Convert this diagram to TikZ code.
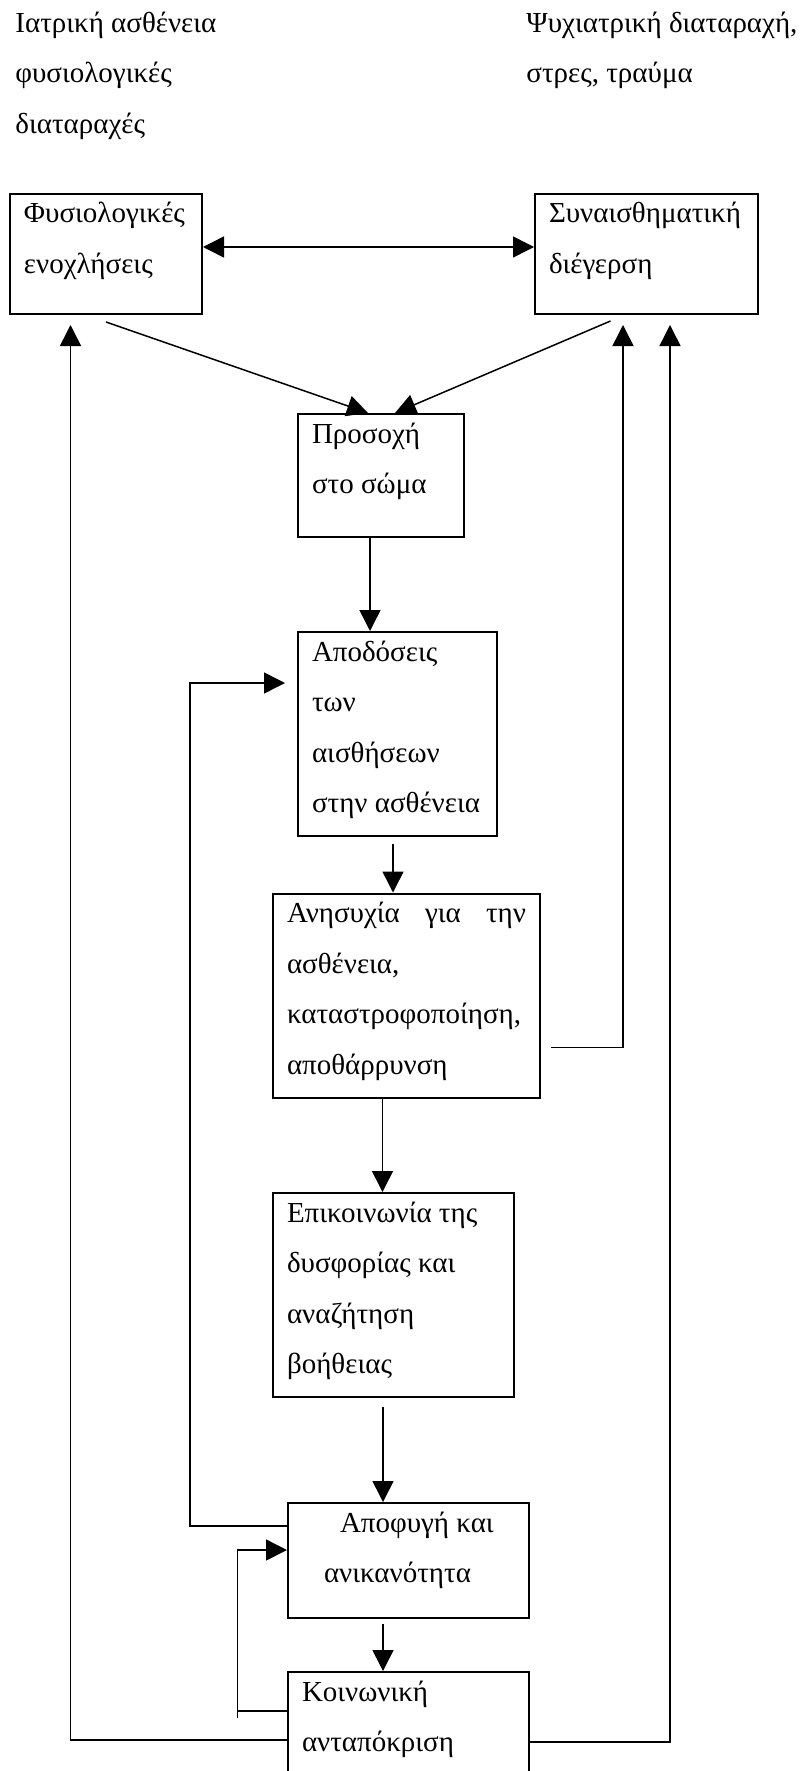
\documentclass[tikz,border=0pt]{standalone}
\usepackage{fontspec}
\setmainfont{Liberation Serif}
\usetikzlibrary{arrows.meta}

% text of a box: width of the box, height of the box, lines
\newcommand{\boxtxt}[3]{\parbox[t][#2][t]{\dimexpr#1-14pt\relax}{\rule{0pt}{14.5pt}#3}}

\begin{document}
\begin{tikzpicture}[x=0.5pt, y=-0.5pt, font=\fontsize{14.5pt}{25.3pt}\selectfont,
    >={Triangle[length=10.5pt, width=10.5pt]},
    box/.style={draw, line width=1pt, anchor=north west, inner xsep=7pt, inner ysep=0pt},
    note/.style={anchor=north west, inner sep=0pt},
    arr/.style={->, line width=0.75pt}]

    \useasboundingbox (0,0) rectangle (801,1771);

    % ================= Causes (top) =================
    \node[note] (txt_left)  at (15,3)  {\boxtxt{214pt}{80pt}{Ιατρική ασθένεια\\φυσιολογικές\\διαταραχές}};
    \node[note] (txt_right) at (526,3) {\boxtxt{214pt}{80pt}{Ψυχιατρική διαταραχή,\\στρες, τραύμα}};

    % ================= Boxes =================
    \node[box] (fys_enox)  at (9,193)   {\boxtxt{96pt}{60pt}{Φυσιολογικές\\ενοχλήσεις}};
    \node[box] (syn_dieg)  at (534,193) {\boxtxt{111.5pt}{60pt}{Συναισθηματική\\διέγερση}};
    \node[box] (prosoxi)   at (297,413) {\boxtxt{83pt}{61.5pt}{Προσοχή\\στο σώμα}};
    \node[box] (apodoseis) at (297,631) {\boxtxt{99.5pt}{102pt}{Αποδόσεις\\των\\αισθήσεων\\στην ασθένεια}};
    \node[box] (anisyxia)  at (272,892.5) {\boxtxt{133.5pt}{102pt}{Ανησυχία\hfill για\hfill την\\ασθένεια,\\καταστροφοποίηση,\\αποθάρρυνση}};
    \node[box] (epikoin)   at (272,1192) {\boxtxt{120.5pt}{102pt}{Επικοινωνία της\\δυσφορίας και\\αναζήτηση\\βοήθειας}};
    \node[box] (apofygi)   at (287,1502) {\boxtxt{120.5pt}{57.5pt}{\hspace*{19pt}Αποφυγή και\\\hspace*{11pt}ανικανότητα}};
    \node[box] (koin_ant)  at (287,1671) {\boxtxt{120.5pt}{80pt}{Κοινωνική\\ανταπόκριση}}; % runs off the page

    % ================= Arrows =================
    % 1. Top pair and into the attention box
    \draw[arr, <->] ([yshift=3.5pt]fys_enox.east) -- ([yshift=3.5pt]syn_dieg.west);
    \draw[arr] ([yshift=-3.5pt]fys_enox.south) -- ([xshift=-6.5pt]prosoxi.north);
    \draw[arr] ([xshift=-18pt,yshift=-3pt]syn_dieg.south) -- ([xshift=7pt]prosoxi.north);

    % 2. Main chain downwards
    \draw[arr] ([xshift=-5.5pt]prosoxi.south) -- ([xshift=-5.5pt]prosoxi.south |- apodoseis.north);
    \draw[arr] ([xshift=-2.25pt,yshift=-3.5pt]apodoseis.south) -- ([xshift=-2.25pt]apodoseis.south |- anisyxia.north);
    \draw[arr] ([xshift=-12pt]anisyxia.south) -- ([xshift=-12pt]anisyxia.south |- epikoin.north);
    \draw[arr] ([xshift=-5.25pt,yshift=-4.5pt]epikoin.south) -- ([xshift=-5.25pt]epikoin.south |- apofygi.north);
    \draw[arr] ([xshift=-12.75pt,yshift=-2.5pt]apofygi.south) -- ([xshift=-12.75pt]apofygi.south |- koin_ant.north);

    % 3. Feedback loops
    \draw[arr] ([xshift=5pt,yshift=-26pt]anisyxia.east) -| ([xshift=-11.75pt,yshift=-5pt]syn_dieg.south);
    \draw[arr] ([yshift=-35.5pt]koin_ant.north east) -| ([xshift=11.75pt,yshift=-5pt]syn_dieg.south);
    \draw[arr] ([yshift=-34.5pt]koin_ant.north west) -| ([xshift=-17.75pt,yshift=-5pt]fys_enox.south);
    \draw[arr] ([yshift=-12pt]apofygi.north west) -- ++(-48.5pt,0) |- ([xshift=-6pt,yshift=-26pt]apodoseis.north west);
    \draw[arr] ([yshift=-20pt]koin_ant.north west) -- ++(-24.75pt,0) ++(0,-3.5pt) |- ([yshift=-24pt]apofygi.north west);

\end{tikzpicture}
\end{document}
